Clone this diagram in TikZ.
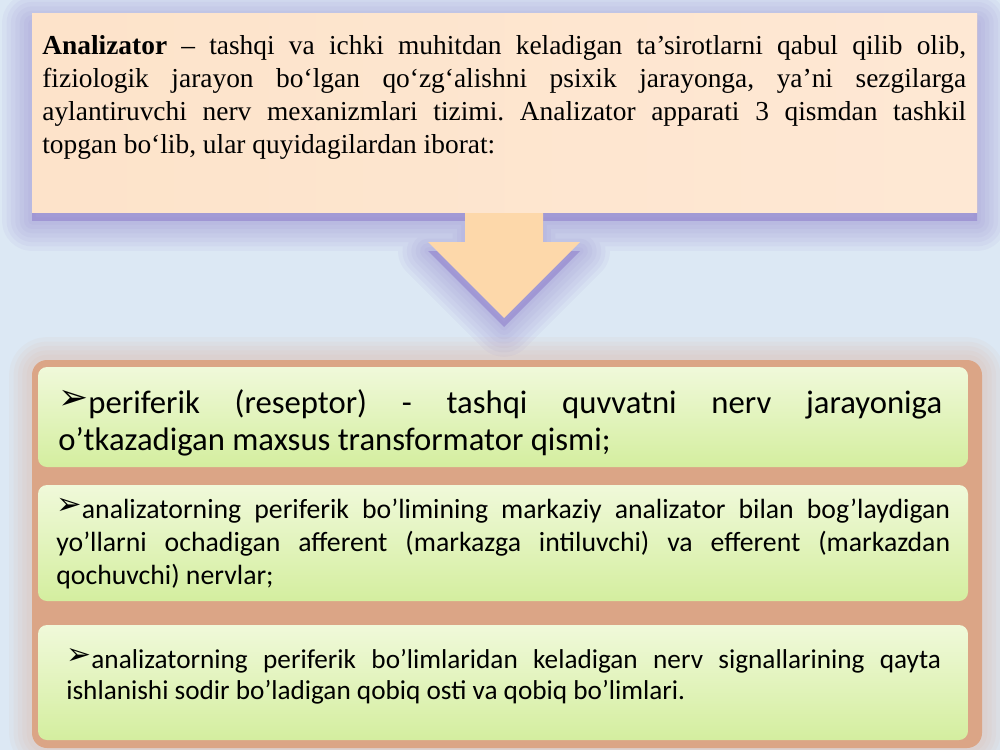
\documentclass[tikz,border=0pt]{standalone}
\usepackage{fontspec}
\setmainfont{Liberation Serif}
\newfontfamily\calfont{Carlito}
\newfontfamily\symfont{DejaVu Sans}
\usepackage{graphicx}
\frenchspacing

\definecolor{bgblue}{HTML}{DCE8F4}
\definecolor{glowpurple}{HTML}{8C7CCB}
\definecolor{glowbrown}{HTML}{DBA586}
\definecolor{peachL}{HTML}{FDE3CA}
\definecolor{peachM}{HTML}{FDD8AA}
\definecolor{peachR}{HTML}{FEE8D4}
\definecolor{limeT}{HTML}{F0F9DA}
\definecolor{limeB}{HTML}{D4EE9F}

% one justified line of a paragraph
\newcommand{\jline}[1]{{\spaceskip=0pt\xspaceskip=0pt\makebox[\hsize][s]{#1}}}
\newcommand{\bul}{{\symfont\raisebox{.12em}{\scalebox{1.1}{➢}}}}

\tikzset{
  glow/.style={line join=round, opacity=.07},
  limebox/.style={rounded corners=0.18cm, top color=limeT, bottom color=limeB},
  deftext/.style={anchor=base west, inner sep=0pt, text width=18.48cm, align=justify,
    font=\fontsize{15.6}{18.7}\selectfont},
  pointtext/.style={anchor=base west, inner sep=0pt, align=justify},
}

\def\callout{(32,14) -- (977,14) -- (977,212) -- (543,212) -- (543,242) -- (580,242)
  -- (504,318) -- (428,242) -- (465,242) -- (465,212) -- (32,212) -- cycle}

\begin{document}
\begin{tikzpicture}[x=0.02cm,y=-0.02cm]
  \useasboundingbox (0,0) rectangle (1000,750);
  \fill[bgblue] (0,0) rectangle (1000,750);

  % purple glow under the callout
  \begin{scope}[yshift=-0.18cm]
    \foreach \w in {34,29,24,19,14,9,4}
      \draw[glow, draw=glowpurple, line width=\w pt] \callout;
    \fill[glowpurple, opacity=.55] \callout;
  \end{scope}

  % callout with arrow
  \fill[peachM] \callout;
  \shade[left color=peachL, middle color=peachM, right color=peachR] (32,14) rectangle (977,212);

  % brown glow under the three points
  \foreach \w in {26,21,16,11,6}
    \draw[glow, draw=glowbrown, line width=\w pt, rounded corners=0.3cm] (32,360) rectangle (982,748);
  \fill[glowbrown, rounded corners=0.3cm] (32,360) rectangle (982,748);

  \shade[limebox] (38,367) rectangle (968,467);
  \shade[limebox] (38,485) rectangle (968,601);
  \shade[limebox] (38,625) rectangle (968,740);

  \node[deftext] (def) at (42,55) {%
    \jline{\textbf{Analizator} – tashqi va ichki muhitdan keladigan ta’sirotlarni qabul qilib olib,}\\
    \jline{fiziologik jarayon bo‘lgan qo‘zg‘alishni psixik jarayonga, ya’ni sezgilarga}\\
    \jline{aylantiruvchi nerv mexanizmlari tizimi. Analizator apparati 3 qismdan tashkil}\\
    topgan bo‘lib, ular quyidagilardan iborat:};

  \node[pointtext, text width=17.68cm, font=\calfont\fontsize{18.6}{21.5}\selectfont] (p1) at (58,413) {%
    \jline{\bul periferik (reseptor) - tashqi quvvatni nerv jarayoniga}\\
    o’tkazadigan maxsus transformator qismi;};

  \node[pointtext, text width=17.88cm, font=\calfont\fontsize{15.8}{19}\selectfont] (p2) at (56,518) {%
    \jline{\bul analizatorning periferik bo’limining markaziy analizator bilan bog’laydigan}\\
    \jline{yo’llarni ochadigan afferent (markazga intiluvchi) va efferent (markazdan}\\
    qochuvchi) nervlar;};

  \node[pointtext, text width=17.5cm, font=\calfont\fontsize{15.5}{18}\selectfont] (p3) at (66,668) {%
    \jline{\bul analizatorning periferik bo’limlaridan keladigan nerv signallarining qayta}\\
    ishlanishi sodir bo’ladigan qobiq osti va qobiq bo’limlari.};
\end{tikzpicture}
\end{document}
